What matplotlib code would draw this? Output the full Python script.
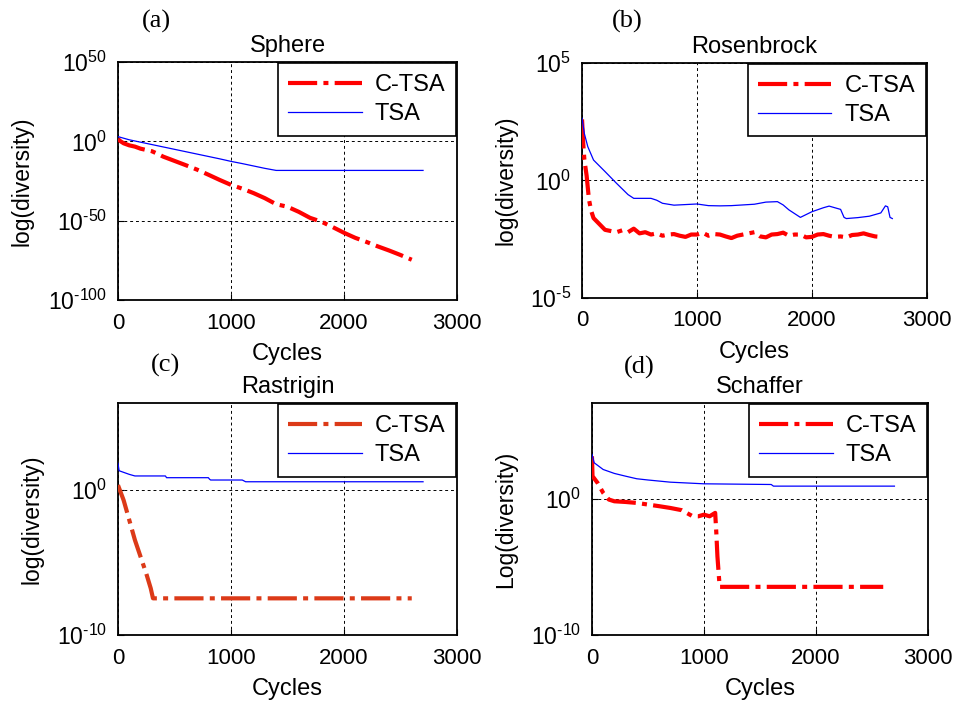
import numpy as np
import matplotlib
matplotlib.use('Agg')
import matplotlib.pyplot as plt

plt.rcParams['font.family'] = ['Liberation Sans', 'DejaVu Sans']
plt.rcParams['mathtext.fontset'] = 'custom'
plt.rcParams['mathtext.rm'] = 'Liberation Sans'
plt.rcParams['mathtext.it'] = 'Liberation Sans'

# ---- data: cycles and log10(diversity) ----
# (a) Sphere
sphere_ctsa_x = [0, 20, 50, 100, 150, 200, 250, 300, 350, 400, 500, 600, 700, 800, 900,
                 1000, 1100, 1200, 1300, 1400, 1500, 1600, 1700, 1800, 1900, 2000, 2100,
                 2200, 2300, 2400, 2500, 2600]
sphere_ctsa_e = [1.5, 0.2, -1.2, -2.5, -3.3, -4.6, -5.4, -6.2, -7.8, -9.6, -12.3, -15.0,
                 -17.8, -21.0, -24.3, -27.4, -29.8, -32.6, -35.8, -39.6, -41.2, -44.4,
                 -48.2, -50.6, -54.0, -57.6, -60.8, -63.4, -66.2, -68.8, -71.6, -74.6]
sphere_tsa_x = [0, 100, 200, 300, 400, 500, 600, 700, 800, 900, 1000, 1100, 1200, 1300,
                1400, 2700]
sphere_tsa_e = [3.0, 1.0, -0.5, -2.0, -3.5, -5.0, -6.5, -8.0, -9.5, -11.0, -12.6, -14.0,
                -15.5, -17.0, -18.3, -18.3]

# (b) Rosenbrock
rosen_ctsa_x = [0, 10, 20, 40, 60, 80, 100, 150, 200, 250, 300, 350, 400, 450, 500, 550,
                600, 650, 700, 750, 800, 850, 900, 950, 1000, 1050, 1100, 1150, 1200,
                1250, 1300, 1350, 1400, 1450, 1500, 1550, 1600, 1650, 1700, 1750, 1800,
                1850, 1900, 1950, 2000, 2050, 2100, 2150, 2200, 2250, 2300, 2350, 2400,
                2450, 2500, 2550, 2600]
rosen_ctsa_e = [2.6, 1.6, 0.9, 0.2, -0.8, -1.3, -1.6, -1.85, -2.1, -2.15, -2.2, -2.12,
                -2.2, -2.05, -2.25, -2.2, -2.3, -2.25, -2.35, -2.3, -2.28, -2.35, -2.4,
                -2.3, -2.3, -2.22, -2.35, -2.28, -2.3, -2.38, -2.45, -2.35, -2.3, -2.25,
                -2.2, -2.38, -2.42, -2.3, -2.28, -2.22, -2.35, -2.3, -2.3, -2.42, -2.4,
                -2.3, -2.28, -2.35, -2.4, -2.38, -2.42, -2.32, -2.3, -2.25, -2.32, -2.38,
                -2.4]
rosen_tsa_x = [0, 20, 50, 100, 200, 300, 400, 450, 600, 650, 700, 800, 1000, 1100, 1200,
               1300, 1400, 1500, 1600, 1700, 1750, 1800, 1900, 1950, 2000, 2100, 2150,
               2200, 2250, 2280, 2300, 2400, 2500, 2600, 2640, 2660, 2680, 2700]
rosen_tsa_e = [2.65, 2.0, 1.44, 0.87, 0.38, -0.12, -0.6, -0.76, -0.76, -0.84, -0.97,
               -1.05, -1.0, -1.07, -1.08, -1.07, -1.04, -1.01, -0.92, -0.9, -1.04, -1.25,
               -1.57, -1.45, -1.33, -1.16, -1.09, -1.16, -1.23, -1.57, -1.62, -1.58,
               -1.52, -1.38, -1.08, -1.12, -1.57, -1.62]

# (c) Rastrigin
rast_ctsa_x = [0, 50, 100, 150, 200, 250, 290, 310, 2600]
rast_ctsa_e = [0.34, -0.7, -2.07, -3.45, -4.6, -5.75, -6.78, -7.47, -7.47]
rast_tsa_x = [0, 10, 100, 150, 420, 430, 800, 810, 820, 1100, 1130, 2700]
rast_tsa_e = [1.84, 1.33, 1.08, 0.97, 0.97, 0.85, 0.85, 0.75, 0.69, 0.69, 0.57, 0.57]

# (d) Schaffer
schaf_ctsa_x = [0, 5, 50, 100, 150, 200, 300, 400, 500, 600, 700, 800, 900, 950, 1000,
                1050, 1100, 1110, 1120, 1140, 2600]
schaf_ctsa_e = [3.1, 1.64, 1.15, 0.42, -0.07, -0.2, -0.25, -0.32, -0.44, -0.56, -0.69,
                -0.85, -1.3, -1.3, -1.18, -1.3, -1.05, -2.5, -4.24, -6.47, -6.47]
schaf_tsa_x = [0, 20, 100, 200, 300, 400, 500, 700, 1000, 1600, 1620, 2700]
schaf_tsa_e = [3.24, 2.62, 2.13, 1.84, 1.64, 1.45, 1.36, 1.2, 1.08, 1.03, 0.91, 0.91]

HY = '\u2010'  # plain hyphen, as in the original exponents

panels = [
    dict(tag='(a)', title='Sphere', ylabel='log(diversity)',
         cx=sphere_ctsa_x, ce=sphere_ctsa_e, tx=sphere_tsa_x, te=sphere_tsa_e,
         ylim=(1e-100, 1e50), yticks=[1e-100, 1e-50, 1e0, 1e50],
         ylabels=['100', '50', '0', '50'], yneg=[True, True, False, False],
         rect=[0.1225, 0.5726, 0.352, 0.339], red='#ff0000', lab_x=-0.25,
         tag_xy=(0.162, 0.970)),
    dict(tag='(b)', title='Rosenbrock', ylabel='log(diversity)',
         cx=rosen_ctsa_x, ce=rosen_ctsa_e, tx=rosen_tsa_x, te=rosen_tsa_e,
         ylim=(1e-5, 1e5), yticks=[1e-5, 1e0, 1e5],
         ylabels=['5', '0', '5'], yneg=[True, False, False],
         rect=[0.6044, 0.5755, 0.358, 0.3348], red='#ff0000', lab_x=-0.188,
         tag_xy=(0.651, 0.969)),
    dict(tag='(c)', title='Rastrigin', ylabel='log(diversity)',
         cx=rast_ctsa_x, ce=rast_ctsa_e, tx=rast_tsa_x, te=rast_tsa_e,
         ylim=(1e-10, 1e6), yticks=[1e-10, 1e0],
         ylabels=['10', '0'], yneg=[True, False],
         rect=[0.1225, 0.0954, 0.352, 0.3305], red='#dc3a18', lab_x=-0.221,
         tag_xy=(0.172, 0.479)),
    dict(tag='(d)', title='Schaffer', ylabel='Log(diversity)',
         cx=schaf_ctsa_x, ce=schaf_ctsa_e, tx=schaf_tsa_x, te=schaf_tsa_e,
         ylim=(1e-10, 1e7), yticks=[1e-10, 1e0],
         ylabels=['10', '0'], yneg=[True, False],
         rect=[0.6147, 0.0954, 0.349, 0.3305], red='#ff0000', lab_x=-0.223,
         tag_xy=(0.664, 0.477)),
]

fig = plt.figure(figsize=(9.63, 7.02), dpi=100)

for p in panels:
    ax = fig.add_axes(p['rect'])
    ax.set_yscale('log')
    ax.plot(p['cx'], 10.0 ** np.array(p['ce']), color=p['red'], lw=3.0,
            linestyle=(0, (7, 1.5, 1.2, 1.5)), label='C-TSA', zorder=3)
    ax.plot(p['tx'], 10.0 ** np.array(p['te']), color='#0000ff', lw=0.9,
            label='TSA', zorder=3)
    ax.set_xlim(0, 3000)
    ax.set_ylim(*p['ylim'])
    ax.set_xticks([0, 1000, 2000, 3000])
    ax.set_yticks(p['yticks'])
    labs = []
    for txt, neg in zip(p['ylabels'], p['yneg']):
        e = (HY + txt) if neg else txt
        labs.append('$10^{' + e + '}$')
    ax.set_yticklabels(labs)
    ax.minorticks_off()
    ax.tick_params(direction='in', labelsize=16.5, length=4, width=0.8)
    ax.tick_params(axis='x', pad=9, labelsize=16)
    ax.tick_params(axis='y', pad=8)
    ax.grid(True, color='black', linestyle=(0, (3, 3)), linewidth=0.7)
    for s in ax.spines.values():
        s.set_linewidth(1.3)
    ax.set_title(p['title'], fontsize=17, pad=7)
    ax.set_xlabel('Cycles', fontsize=17, labelpad=7)
    ax.set_ylabel(p['ylabel'], fontsize=16.5)
    ax.yaxis.set_label_coords(p['lab_x'], 0.5)
    leg = ax.legend(loc='upper right', fontsize=17, handlelength=3.1,
                    fancybox=False, framealpha=1, edgecolor='black',
                    borderaxespad=0.05, borderpad=0.45, labelspacing=0.3,
                    handletextpad=0.55)
    leg.get_frame().set_linewidth(1.2)
    fig.text(p['tag_xy'][0], p['tag_xy'][1], p['tag'], fontsize=19,
             family='Liberation Serif', ha='center', va='center')

fig.savefig('out.png', dpi=100)
